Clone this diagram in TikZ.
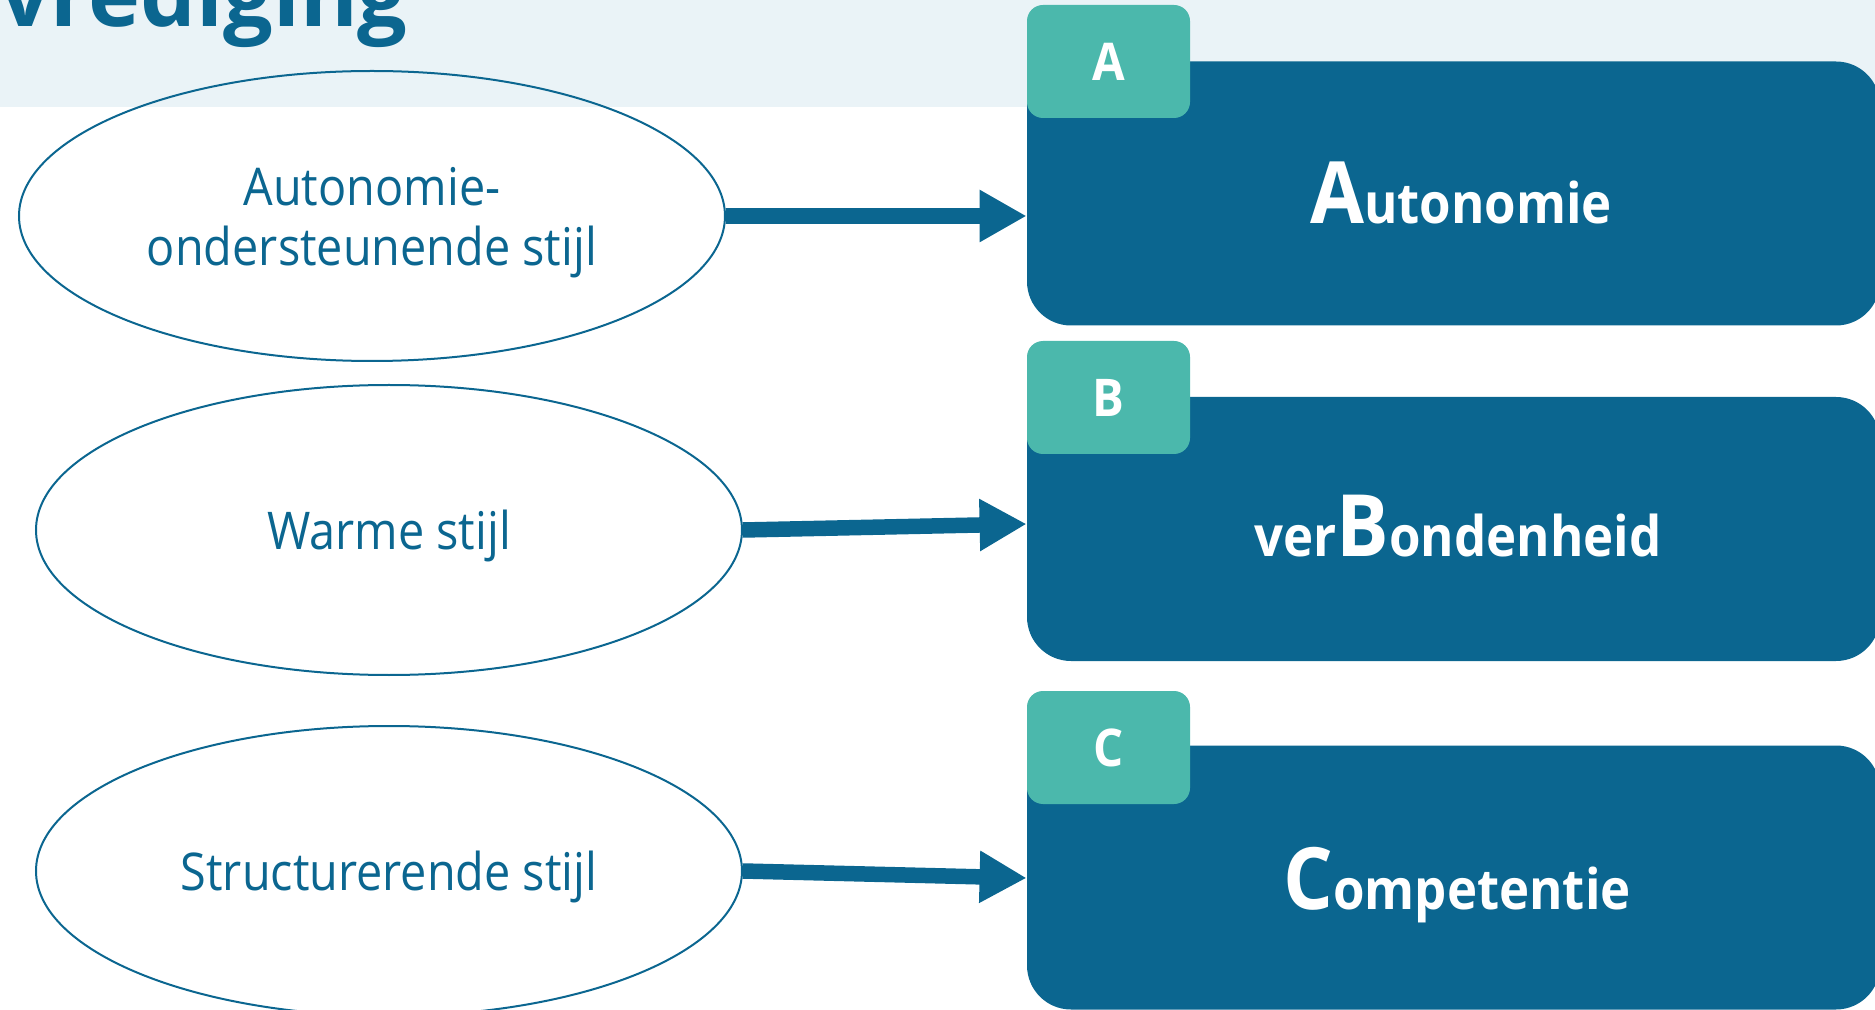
\documentclass[tikz,border=0pt]{standalone}
\usepackage{fontspec}
\setmainfont{Open Sans}
\newfontfamily\ellfont[FakeStretch=0.9]{Open Sans}
\newfontfamily\cardfont[FakeStretch=0.91]{Open Sans}
\usetikzlibrary{shapes.geometric,arrows.meta}
\definecolor{dblue}{HTML}{0B6690}
\definecolor{tealc}{HTML}{4BB8AC}
\definecolor{bandc}{HTML}{EAF3F7}
\tikzset{
  ell/.style={ellipse, draw=dblue, line width=1pt, text=dblue, align=center, inner sep=0pt, text depth=0pt,
    minimum width=353pt, minimum height=145pt, font=\ellfont\fontsize{26}{30}\selectfont},
  card/.style={rectangle, fill=dblue, rounded corners=22pt, minimum width=426.5pt, minimum height=132pt, inner sep=0pt},
  tab/.style={rectangle, fill=tealc, rounded corners=8pt, minimum width=81.5pt, minimum height=56.5pt, inner sep=0pt,
    text=white, font=\cardfont\fontsize{26}{26}\selectfont\bfseries},
  cardtext/.style={anchor=base, text=white, inner sep=0pt, font=\cardfont\fontsize{28}{28}\selectfont\bfseries},
  arr/.style={draw=dblue, line width=7.75pt, -{Triangle[length=23.5pt,width=24.5pt]}}
}
\newcommand{\capletter}[1]{{\fontsize{43}{43}\selectfont #1}}
\begin{document}
\begin{tikzpicture}[x=0.5pt,y=-0.5pt]
\useasboundingbox (0,0) rectangle (1875,1010);
\fill[bandc] (0,0) rectangle (1875,107);
\node[anchor=base east, font=\fontsize{44}{44}\selectfont\bfseries, text=dblue, inner sep=0pt] (title) at (408,27) {vrediging};

\node[ell] (e1) at (372,216) {Autonomie-\\ondersteunende stijl};
\node[ell] (e2) at (389,530) {Warme stijl};
\node[ell] (e3) at (389,871) {Structurerende stijl};

\node[card] (c1) at (1453.5,193.5) {};
\node[card] (c2) at (1453.5,529) {};
\node[card] (c3) at (1453.5,877.5) {};

\node[tab] (a1) at (1108.5,61.5) {A};
\node[tab] (a2) at (1108.5,397.5) {B};
\node[tab] (a3) at (1108.5,747.5) {C};

\node[cardtext] (t1) at (1461,224) {\capletter{A}utonomie};
\node[cardtext] (t2) at (1458,557) {ver\capletter{B}ondenheid};
\node[cardtext] (t3) at (1457,909) {\capletter{C}ompetentie};

\draw[arr] (e1.east) -- (e1.east -| c1.west);
\draw[arr] (e2.east) -- ([yshift=3pt]e2.east -| c2.west);
\draw[arr] (e3.east) -- ([yshift=-3.5pt]e3.east -| c3.west);
\end{tikzpicture}
\end{document}
